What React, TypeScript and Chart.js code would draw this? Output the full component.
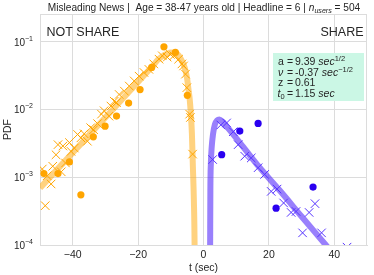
import { useEffect, useRef } from 'react';
import { Chart, registerables } from 'chart.js';
Chart.register(...registerables);

// ---- data (t in seconds, PDF values) ----
const orangeDotT = [-48.8, -44.5, -41.0, -37.5, -33.7, -30.1, -26.6, -22.9, -19.4, -15.85, -12.1, -8.6, -4.94];
const orangeDotPdf = [1.13e-3, 1.13e-3, 1.68e-3, 5.5e-4, 3.94e-3, 5.66e-3, 7.96e-3, 1.24e-2, 1.96e-2, 4.15e-2, 8.37e-2, 6.92e-2, 1.61e-2];

const orangeCrossT = [-49.3, -48.4, -47.8, -46.6, -46.1, -45.1, -44.5, -43.5, -43.0, -42.2, -41.0, -40.5, -39.5, -38.5, -37.5, -36.5, -35.5, -34.5, -33.6, -32.4, -31.2, -30.4, -28.9, -28.3, -27.3, -26.6, -25.8, -24.2, -22.7, -21.2, -19.7, -18.2, -16.7, -15.2, -13.6, -12.6, -11.1, -10.1, -9.1, -7.6, -6.6, -6.1, -5.5, -5.1, -4.24, -4.0, -3.33];
const orangeCrossPdf = [1.32e-3, 3.8e-4, 1.05e-3, 7.94e-4, 1.45e-3, 2.14e-3, 3.02e-3, 1.2e-3, 2.88e-3, 1.62e-3, 3.24e-3, 2.4e-3, 2.69e-3, 4.27e-3, 3.8e-3, 4.37e-3, 3.39e-3, 5.37e-3, 5.01e-3, 6.17e-3, 8.51e-3, 9.55e-3, 7.94e-3, 1.12e-2, 1.32e-2, 1.26e-2, 1.66e-2, 1.86e-2, 2.21e-2, 2.63e-2, 3.09e-2, 3.5e-2, 3.89e-2, 4.68e-2, 5.5e-2, 6.17e-2, 5.89e-2, 6.46e-2, 6.17e-2, 5.5e-2, 4.68e-2, 4.37e-2, 3.31e-2, 2.09e-2, 8.51e-3, 7.59e-3, 2.19e-3];

const orangeFitT = [-50, -45, -40, -35, -30, -26.4, -22, -18, -15, -14, -12, -11, -10, -9, -8, -7, -6, -5.5, -5, -4.5, -4.2, -3.9, -3.55, -3.25, -2.95, -2.73, -2.6];
const orangeFitPdf = [6.92e-4, 1.26e-3, 2.29e-3, 4.17e-3, 7.59e-3, 1.17e-2, 2.0e-2, 3.24e-2, 4.68e-2, 5.37e-2, 6.31e-2, 6.68e-2, 6.87e-2, 6.84e-2, 6.53e-2, 5.62e-2, 4.47e-2, 3.72e-2, 2.82e-2, 1.82e-2, 1.38e-2, 8.91e-3, 4.47e-3, 1.45e-3, 4.68e-4, 1.07e-4, 1e-5];

const blueDotT = [5.56, 11.1, 16.7, 22.2, 33.5];
const blueDotPdf = [2.15e-3, 4.79e-3, 6.21e-3, 3.49e-4, 7.16e-4];

const blueCrossT = [2.8, 5.3, 7.07, 9.1, 10.6, 12.6, 14.6, 16.7, 18.7, 20.7, 22.5, 24.5, 26.8, 28.3, 30.3, 32.3, 34.1, 36.1, 43.9];
const blueCrossPdf = [1.82e-3, 5.89e-3, 6.31e-3, 4.68e-3, 3.02e-3, 2.04e-3, 1.92e-3, 1.38e-3, 1.1e-3, 6.17e-4, 6.68e-4, 4.17e-4, 3.02e-4, 3.12e-4, 1.51e-4, 3.02e-4, 4.07e-4, 1.51e-4, 9.3e-5];

const blueFitT = [1.95, 2.03, 2.1, 2.25, 2.5, 2.9, 3.5, 4.2, 4.85, 5.8, 7.06, 11.1, 17.2, 23.2, 30, 37.4, 40];
const blueFitPdf = [1e-5, 1e-4, 6.31e-4, 1.58e-3, 2.75e-3, 4.27e-3, 6.03e-3, 6.92e-3, 7.11e-3, 6.61e-3, 5.62e-3, 3.24e-3, 1.38e-3, 6.46e-4, 2.63e-4, 1e-4, 7.08e-5];

const xTicks = [-40, -20, 0, 20, 40];
const xTickLabels = ['\u221240', '\u221220', '0', '20', '40'];
const yTicks = [1e-4, 1e-3, 1e-2, 1e-1];
const yTickExp = ['\u22124', '\u22123', '\u22122', '\u22121'];

const FONT = '"Liberation Sans", Arial, "DejaVu Sans", sans-serif';
const TEXT = '#262626';
const GRID = '#dcdcdc';
const ORANGE = '#ffa500';
const BLUE_DOT = '#2a00f0';
const BLUE_X = '#5533ff';

type Part = { t: string; f: string; dy?: number };
function measure(ctx: CanvasRenderingContext2D, parts: Part[]) {
  let w = 0;
  for (const p of parts) { ctx.font = p.f; w += ctx.measureText(p.t).width; }
  return w;
}
function flow(ctx: CanvasRenderingContext2D, parts: Part[], x: number, y: number, align: 'left' | 'center' | 'right') {
  const w = measure(ctx, parts);
  let cx = align === 'center' ? x - w / 2 : align === 'right' ? x - w : x;
  ctx.textAlign = 'left';
  ctx.textBaseline = 'alphabetic';
  for (const p of parts) {
    ctx.font = p.f;
    ctx.fillText(p.t, cx, y + (p.dy || 0));
    cx += ctx.measureText(p.t).width;
  }
  return w;
}

const titleParts = (fs: number): Part[] => [
  { t: 'Misleading News |  Age = 38-47 years old | Headline = 6 | ', f: `${fs}px ${FONT}` },
  { t: 'n', f: `italic ${fs}px ${FONT}` },
  { t: 'users', f: `italic ${fs * 0.7}px ${FONT}`, dy: 2 },
  { t: ' = 504', f: `${fs}px ${FONT}` },
];

const pts = (ts: number[], vs: number[]) => ts.map((t, i) => ({ x: t, y: vs[i] }));

const decor = {
  id: 'decor',
  afterDraw(chart: any) {
    const ctx: CanvasRenderingContext2D = chart.ctx;
    const a = chart.chartArea;
    const xs = chart.scales.x;
    const ys = chart.scales.y;
    ctx.save();
    // top & right spines
    ctx.strokeStyle = GRID;
    ctx.lineWidth = 1;
    ctx.beginPath();
    ctx.moveTo(a.left, a.top + 0.5);
    ctx.lineTo(a.right, a.top + 0.5);
    ctx.moveTo(a.right - 0.5, a.top);
    ctx.lineTo(a.right - 0.5, a.bottom);
    ctx.stroke();

    ctx.fillStyle = TEXT;
    // title, sized to the reference width
    const w10 = measure(ctx, titleParts(10));
    const fs = Math.min(11, (10 * 313) / w10);
    flow(ctx, titleParts(fs), (a.left + a.right) / 2 + 0.5, 10.5, 'center');

    // y tick labels
    yTicks.forEach((v, i) => {
      const y = ys.getPixelForValue(v);
      flow(ctx, [
        { t: '10', f: `10px ${FONT}` },
        { t: yTickExp[i], f: `7px ${FONT}`, dy: -5 },
      ], 33, y + 4, 'right');
    });
    // x tick labels
    ctx.font = `10.5px ${FONT}`;
    ctx.textAlign = 'center';
    ctx.textBaseline = 'alphabetic';
    xTicks.forEach((v, i) => {
      ctx.fillText(xTickLabels[i], xs.getPixelForValue(v), 258);
    });
    // axis titles
    ctx.fillText('t (sec)', (a.left + a.right) / 2, 271);
    ctx.save();
    ctx.translate(11, (a.top + a.bottom) / 2);
    ctx.rotate(-Math.PI / 2);
    ctx.fillText('PDF', 0, 0);
    ctx.restore();

    // NOT SHARE / SHARE
    ctx.font = `12.5px ${FONT}`;
    ctx.textAlign = 'left';
    ctx.fillText('NOT SHARE', 46.5, 36);
    ctx.textAlign = 'right';
    ctx.fillText('SHARE', 363.5, 36);

    // parameter box
    ctx.fillStyle = '#cbf7e5';
    ctx.fillRect(273, 53, 91, 48);
    ctx.fillStyle = TEXT;
    const lf = `10.5px ${FONT}`;
    const li = `italic 10.5px ${FONT}`;
    const sf = `7.5px ${FONT}`;
    const lx = 278;
    flow(ctx, [{ t: 'a', f: lf }], lx, 65, 'left');
    flow(ctx, [{ t: '=', f: lf }], 287, 65, 'left');
    flow(ctx, [{ t: '9.39 ', f: lf }, { t: 'sec', f: li }, { t: '1/2', f: sf, dy: -4 }], 295, 65, 'left');
    flow(ctx, [{ t: '\u03bd', f: li }], lx, 75.5, 'left');
    flow(ctx, [{ t: '=', f: lf }], 287, 75.5, 'left');
    flow(ctx, [{ t: '-0.37 ', f: lf }, { t: 'sec', f: li }, { t: '\u22121/2', f: sf, dy: -4 }], 295, 75.5, 'left');
    flow(ctx, [{ t: 'z', f: lf }], lx, 86, 'left');
    flow(ctx, [{ t: '=', f: lf }], 287, 86, 'left');
    flow(ctx, [{ t: '0.61', f: lf }], 295, 86, 'left');
    flow(ctx, [{ t: 't', f: li }, { t: '0', f: sf, dy: 2 }], 277.5, 96.5, 'left');
    flow(ctx, [{ t: '=', f: lf }], 287, 96.5, 'left');
    flow(ctx, [{ t: '1.15 ', f: lf }, { t: 'sec', f: li }], 295, 96.5, 'left');
    ctx.restore();
  },
};

export default function App() {
  const ref = useRef<HTMLCanvasElement | null>(null);
  useEffect(() => {
    document.body.style.margin = '0';
    const canvas = ref.current!;
    const chart = new Chart(canvas, {
      type: 'scatter',
      data: {
        datasets: [
          { label: 'orange dots', data: pts(orangeDotT, orangeDotPdf), pointStyle: 'circle', pointRadius: 3.6, backgroundColor: ORANGE, pointBackgroundColor: ORANGE, borderWidth: 0, pointBorderWidth: 0, clip: 0, order: 0 } as any,
          { label: 'blue dots', data: pts(blueDotT, blueDotPdf), pointStyle: 'circle', pointRadius: 3.6, backgroundColor: BLUE_DOT, pointBackgroundColor: BLUE_DOT, borderWidth: 0, pointBorderWidth: 0, clip: 0, order: 0 } as any,
          { label: 'orange crosses', data: pts(orangeCrossT, orangeCrossPdf), pointStyle: 'crossRot', pointRadius: 6, borderColor: ORANGE, pointBorderColor: ORANGE, borderWidth: 1, pointBorderWidth: 1, clip: 0, order: 1 } as any,
          { label: 'blue crosses', data: pts(blueCrossT, blueCrossPdf), pointStyle: 'crossRot', pointRadius: 6, borderColor: BLUE_X, pointBorderColor: BLUE_X, borderWidth: 1, pointBorderWidth: 1, clip: 0, order: 1 } as any,
          { label: 'orange fit', data: pts(orangeFitT, orangeFitPdf), showLine: true, pointRadius: 0, borderColor: 'rgba(255,165,0,0.5)', borderWidth: 6, cubicInterpolationMode: 'monotone', fill: false, clip: 0, order: 5 } as any,
          { label: 'blue fit', data: pts(blueFitT, blueFitPdf), showLine: true, pointRadius: 0, borderColor: 'rgba(90,50,250,0.62)', borderWidth: 6, cubicInterpolationMode: 'monotone', fill: false, clip: 0, order: 5 } as any,
        ],
      },
      options: {
        animation: false,
        responsive: false,
        devicePixelRatio: 1,
        layout: { padding: { left: 0, right: 4, top: 14, bottom: 0 } },
        plugins: { legend: { display: false }, tooltip: { enabled: false }, title: { display: false } },
        scales: {
          x: {
            type: 'linear', min: -50, max: 50,
            ticks: { display: false },
            grid: { color: GRID, lineWidth: 1, drawTicks: false },
            border: { display: true, color: GRID },
            afterFit: (s: any) => { s.height = 30; },
            afterBuildTicks: (s: any) => { s.ticks = xTicks.map((v) => ({ value: v })); },
          },
          y: {
            type: 'logarithmic', min: 1e-4, max: 0.255,
            ticks: { display: false },
            grid: { color: GRID, lineWidth: 1, drawTicks: false },
            border: { display: true, color: GRID },
            afterFit: (s: any) => { s.width = 40; },
            afterBuildTicks: (s: any) => { s.ticks = yTicks.map((v) => ({ value: v })); },
          },
        },
      } as any,
      plugins: [decor],
    });
    return () => chart.destroy();
  }, []);
  return <canvas ref={ref} width={374} height={275} style={{ display: 'block', width: 374, height: 275 }} />;
}
